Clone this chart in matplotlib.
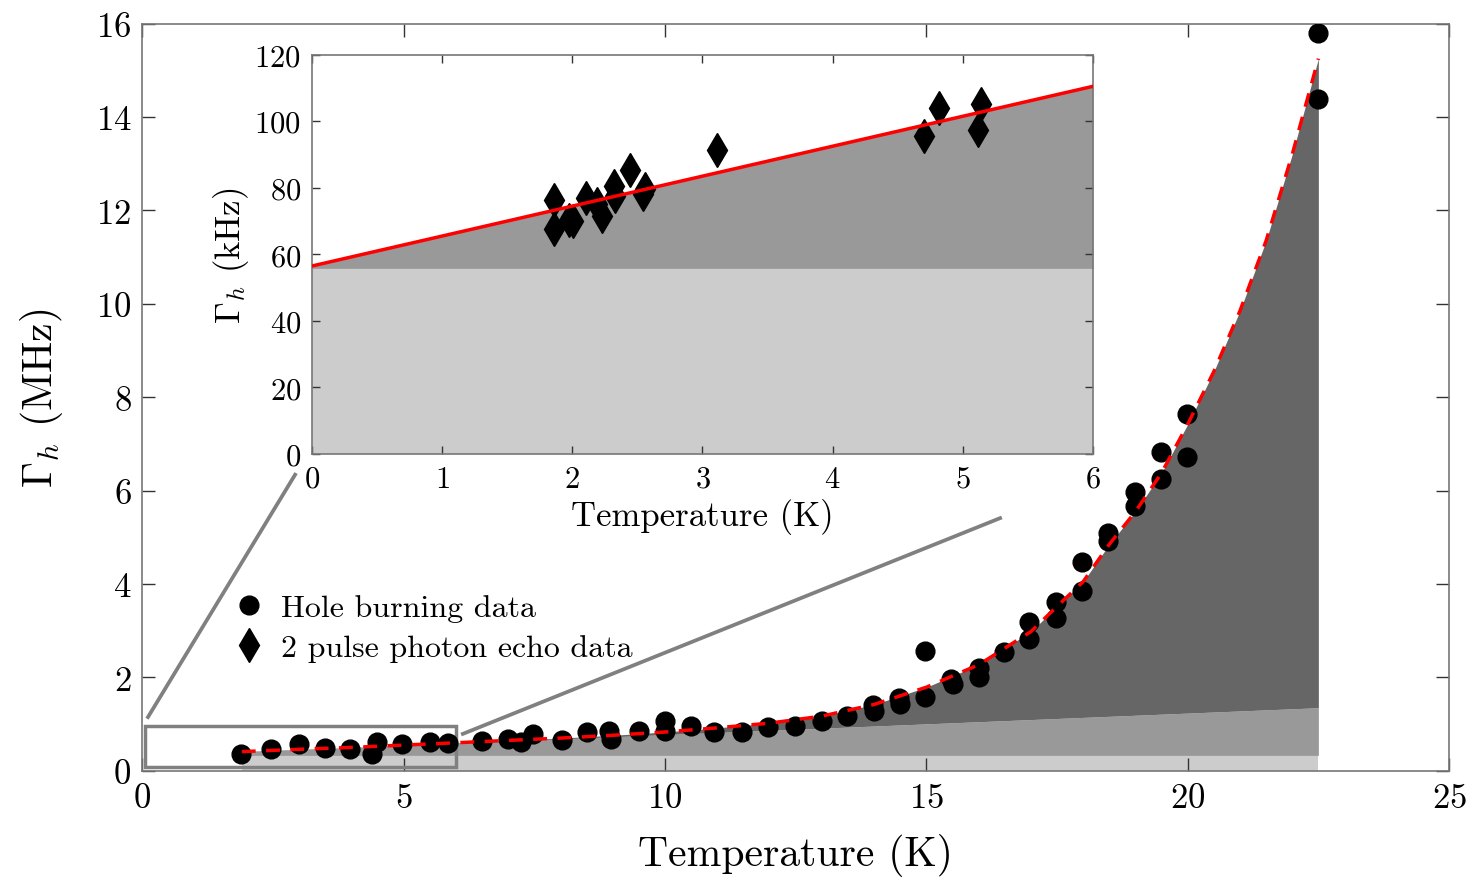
#!/usr/bin/env python3
# -*- coding: utf-8 -*-
"""
Homogeneous linewidth vs temperature, hole burning + photon echo, with inset.
"""
import matplotlib
matplotlib.use("Agg")
import matplotlib.pyplot as plt
from matplotlib.lines import Line2D
from matplotlib.patches import Rectangle

# hole burning data (K, MHz)
hb_T = [1.88, 2.45, 3.0, 3.49, 3.98, 4.48, 4.40, 4.96, 5.50, 5.85, 6.49,
        7.0, 7.24, 7.48, 8.02, 8.51, 8.93, 8.96, 9.50, 10.0, 9.99, 10.49,
        10.94, 11.48, 11.97, 12.49, 13.0, 13.49, 13.98, 14.0, 14.48, 14.5,
        14.98, 14.98, 15.48, 15.5, 16.0, 16.0, 16.49, 16.97, 16.97, 17.48,
        17.48, 17.97, 17.97, 18.48, 18.48, 18.99, 18.99, 19.48, 19.48,
        19.98, 19.98, 22.49, 22.49]
hb_G = [0.36, 0.46, 0.57, 0.48, 0.46, 0.61, 0.36, 0.57, 0.61, 0.59, 0.64,
        0.69, 0.62, 0.79, 0.66, 0.84, 0.86, 0.69, 0.86, 1.07, 0.86, 0.96,
        0.84, 0.84, 0.93, 0.95, 1.07, 1.18, 1.40, 1.28, 1.55, 1.42,
        2.56, 1.57, 1.96, 1.85, 2.20, 2.00, 2.54, 3.18, 2.82, 3.62,
        3.27, 4.46, 3.86, 5.09, 4.93, 5.97, 5.68, 6.82, 6.24,
        7.64, 6.71, 15.79, 14.38]

# fit curve (K, MHz)
fit_T = [1.9, 3, 4, 5, 6, 7, 8, 9, 10, 11, 12, 13, 14, 15, 16, 17, 17.5,
         18, 18.5, 19, 19.5, 20, 20.5, 21, 21.5, 22, 22.5]
fit_G = [0.41, 0.46, 0.50, 0.55, 0.60, 0.65, 0.70, 0.76, 0.83, 0.92, 1.02,
         1.17, 1.42, 1.79, 2.27, 2.98, 3.52, 4.05, 4.85, 5.55, 6.38, 7.42,
         8.55, 9.85, 11.35, 13.2, 15.25]

# contributions (shaded bands)
band_T = [1.9, 22.5]
band_floor = [0.33, 0.33]
band_lin = [0.40, 1.35]

# photon echo data (K, kHz)
pe_T = [1.859, 1.859, 1.976, 2.007, 2.104, 2.186, 2.225, 2.32, 2.327,
        2.442, 2.545, 2.557, 3.108, 4.70, 4.82, 5.14, 5.12]
pe_G = [76.3, 67.6, 70.4, 70.1, 76.9, 75.1, 71.6, 80.6, 77.4,
        85.5, 78.1, 79.6, 91.5, 95.5, 104.0, 105.2, 97.5]

inset_T = [0, 6]
inset_fit = [56.5, 110.5]
inset_floor = [55.8, 55.8]


def style_axes(ax, ticklen, labelsize):
    for s in ax.spines.values():
        s.set_color("#777777")
        s.set_linewidth(1.2)
    ax.tick_params(direction="in", top=True, right=True, length=ticklen,
                   width=1.0, color="#333333", labelsize=labelsize, pad=8)


def main():
    plt.rcParams["font.family"] = "cmr10"
    plt.rcParams["mathtext.fontset"] = "cm"
    plt.rcParams["axes.formatter.use_mathtext"] = True

    fig = plt.figure(figsize=(14.69, 8.79), dpi=100)
    ax = fig.add_axes([0.097, 0.122, 0.8894, 0.850])

    light, mid, dark = "#cccccc", "#999999", "#666666"
    ax.fill_between(band_T, 0, band_floor, color=light, lw=0)
    ax.fill_between(band_T, band_floor, band_lin, color=mid, lw=0)
    lin_at_fit = [band_lin[0] + (band_lin[1] - band_lin[0]) *
                  (t - band_T[0]) / (band_T[1] - band_T[0]) for t in fit_T]
    ax.fill_between(fit_T, lin_at_fit, fit_G, color=dark, lw=0)

    ax.add_patch(Rectangle((0.05, 0.08), 5.95, 0.87, fill=False,
                           edgecolor="#808080", lw=2.5, zorder=3))
    ax.plot([0.105, 2.92], [1.15, 6.34], color="#808080", lw=2.7,
            zorder=3, clip_on=False)
    ax.plot([6.13, 16.41], [0.79, 5.41], color="#808080", lw=2.7,
            zorder=3, clip_on=False)

    ax.plot(hb_T, hb_G, "o", color="black", ms=13.5, zorder=4)
    ax.plot(fit_T, fit_G, "--", color="red", lw=2.5, dashes=(4, 3),
            zorder=5)

    ax.set_xlim(0, 25)
    ax.set_ylim(0, 16)
    ax.set_xticks(range(0, 26, 5))
    ax.set_yticks(range(0, 17, 2))
    style_axes(ax, 9.5, 25)
    ax.set_xlabel("Temperature (K)", fontsize=30, labelpad=14)
    ax.set_ylabel(r"$\Gamma_h$ (MHz)", fontsize=30, labelpad=22)

    handles = [Line2D([], [], ls="none", marker="o", color="black", ms=13.5),
               Line2D([], [], ls="none", marker="d", color="black", ms=17)]
    ax.legend(handles, ["Hole burning data", "2 pulse photon echo data"],
              loc="upper left", bbox_to_anchor=(0.045, 0.275), frameon=False,
              fontsize=23, handletextpad=0.4, labelspacing=0.35,
              handlelength=1.2)

    # inset
    ins = fig.add_axes([0.2124, 0.4824, 0.5316, 0.4542])
    ins.fill_between(inset_T, 0, inset_floor, color=light, lw=0)
    ins.fill_between(inset_T, inset_floor, inset_fit, color=mid, lw=0)
    ins.plot(pe_T, pe_G, "d", color="black", ms=17, zorder=4)
    ins.plot(inset_T, inset_fit, "-", color="red", lw=2.5, zorder=5)
    ins.set_xlim(0, 6)
    ins.set_ylim(0, 120)
    ins.set_xticks(range(0, 7))
    ins.set_yticks(range(0, 121, 20))
    style_axes(ins, 6, 22)
    ins.set_xlabel("Temperature (K)", fontsize=25, labelpad=4)
    ins.set_ylabel(r"$\Gamma_h$ (kHz)", fontsize=25, labelpad=2)

    fig.savefig("out.png", dpi=100)


if __name__ == "__main__":
    main()
